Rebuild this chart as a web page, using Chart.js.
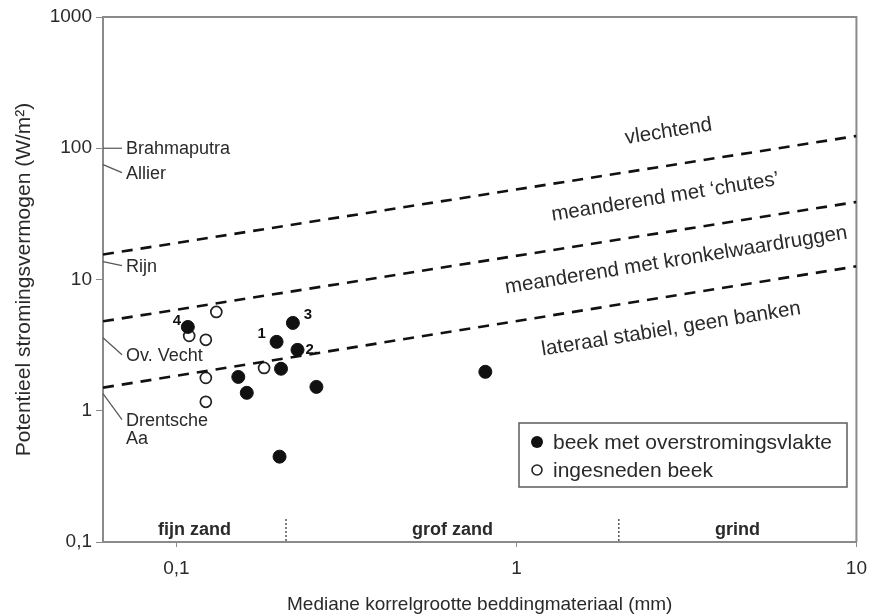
<!DOCTYPE html>
<html>
<head>
<meta charset="utf-8">
<script src="https://cdn.jsdelivr.net/npm/chart.js@4/dist/chart.umd.min.js"></script>
<style>
  html, body { margin: 0; padding: 0; background: #fff; }
  #wrap { width: 877px; height: 616px; }
</style>
</head>
<body>
<div id="wrap"><canvas id="chart"></canvas></div>
<script>
// assen
const xMin = 0.0608, xMax = 10
const xTicks = [0.1, 1, 10]
const yTicks = [0.1, 1, 10, 100, 1000]

// grenslijnen tussen riviertypen
const lineX = [0.0608, 10]
const vlechtGrens = [15.5, 124]
const chutesGrens = [4.8, 39]
const kronkelGrens = [1.5, 12.6]

// beek met overstromingsvlakte
const filledX = [0.108, 0.152, 0.161, 0.197, 0.203, 0.220, 0.227, 0.258, 0.201, 0.81]
const filledY = [4.35, 1.81, 1.37, 3.35, 2.09, 4.67, 2.91, 1.52, 0.447, 1.98]
const filledLabels = ['4', '', '', '1', '', '3', '2.', '', '', '']

// ingesneden beek
const openX = [0.109, 0.122, 0.131, 0.122, 0.122, 0.181]
const openY = [3.72, 3.47, 5.66, 1.78, 1.17, 2.12]

// grote rivieren langs de y-as
const riverNames = ['Brahmaputra', 'Allier', 'Rijn', 'Ov. Vecht', 'Drentsche\nAa']
const riverPower = [100, 75, 13.7, 3.6, 1.35]

// korrelgrootteklassen
const classNames = ['fijn zand', 'grof zand', 'grind']
const classBounds = [0.21, 2]

const regimeNames = ['vlechtend', 'meanderend met \u2018chutes\u2019', 'meanderend met kronkelwaardruggen', 'lateraal stabiel, geen banken']

const legendNames = ['beek met overstromingsvlakte', 'ingesneden beek']

const FONT = 'Liberation Sans, Arial, sans-serif'
const TEXT = '#2a2a2a'
const AXIS = '#8a8a8a'

const toPts = (xs, ys) => xs.map((x, i) => ({x: x, y: ys[i]}))

function lineSet(values) {
    return {
        data: toPts(lineX, values),
        showLine: true,
        borderColor: '#111',
        borderWidth: 2.6,
        borderDash: [11, 8],
        pointRadius: 0,
        fill: false
    }
}

const extras = {
    id: 'extras',
    beforeDatasetsDraw(chart) {
        const {ctx, chartArea: a, scales: {x, y}} = chart
        ctx.save()
        ctx.strokeStyle = AXIS
        ctx.lineWidth = 2
        ctx.beginPath()
        ctx.moveTo(a.left, a.top)
        ctx.lineTo(a.right, a.top)
        ctx.lineTo(a.right, a.bottom)
        ctx.stroke()

        // klassegrenzen
        ctx.strokeStyle = '#555'
        ctx.lineWidth = 1.5
        ctx.setLineDash([2, 2])
        classBounds.forEach(b => {
            const px = x.getPixelForValue(b)
            ctx.beginPath()
            ctx.moveTo(px, a.bottom - 23)
            ctx.lineTo(px, a.bottom)
            ctx.stroke()
        })
        ctx.setLineDash([])

        ctx.fillStyle = TEXT
        ctx.font = 'bold 18px ' + FONT
        ctx.textAlign = 'center'
        ctx.textBaseline = 'middle'
        const edges = [xMin].concat(classBounds, [xMax])
        classNames.forEach((n, i) => {
            const mid = Math.sqrt(edges[i] * edges[i + 1])
            ctx.fillText(n, x.getPixelForValue(mid), a.bottom - 12)
        })

        // rivieren
        const drop = [0, 8, 4, 17, 26]
        ctx.font = '18px ' + FONT
        ctx.textAlign = 'left'
        ctx.strokeStyle = '#555'
        ctx.lineWidth = 1.2
        riverNames.forEach((n, i) => {
            const py = y.getPixelForValue(riverPower[i])
            ctx.beginPath()
            ctx.moveTo(a.left, py)
            ctx.lineTo(a.left + 19, py + drop[i])
            ctx.stroke()
            n.split('\n').forEach((part, j) => {
                ctx.fillText(part, a.left + 23, py + drop[i] + 1 + j * 18)
            })
        })

        // regimes, schuin langs de lijnen
        const lines = [vlechtGrens, chutesGrens, kronkelGrens, kronkelGrens]
        const shift = [-34, -35, -35, 33]
        const xs = [2.8, 2.74, 2.95, 2.85]
        ctx.font = '20.5px ' + FONT
        ctx.textAlign = 'center'
        regimeNames.forEach((n, i) => {
            const ln = lines[i]
            const x0 = x.getPixelForValue(lineX[0]), y0 = y.getPixelForValue(ln[0])
            const x1 = x.getPixelForValue(lineX[1]), y1 = y.getPixelForValue(ln[1])
            const px = x.getPixelForValue(xs[i])
            const py = y0 + (y1 - y0) * (px - x0) / (x1 - x0) + shift[i]
            ctx.save()
            ctx.translate(px, py)
            ctx.rotate(Math.atan2(y1 - y0, x1 - x0))
            ctx.fillText(n, 0, 0)
            ctx.restore()
        })
        ctx.restore()
    },
    afterDatasetsDraw(chart) {
        const {ctx, scales: {x, y}} = chart
        ctx.save()
        ctx.fillStyle = '#111'
        ctx.font = 'bold 15px ' + FONT
        ctx.textBaseline = 'middle'
        const off = {'4': [-11, -6, 'center'], '1': [-15, -8, 'center'], '3': [15, -8, 'center'], '2.': [8, 0, 'left']}
        filledLabels.forEach((t, i) => {
            if (!t) return
            const o = off[t]
            ctx.textAlign = o[2]
            ctx.fillText(t, x.getPixelForValue(filledX[i]) + o[0], y.getPixelForValue(filledY[i]) + o[1])
        })

        // legenda
        const bx = 519, by = 423, bw = 328, bh = 64
        ctx.fillStyle = '#fff'
        ctx.fillRect(bx, by, bw, bh)
        ctx.strokeStyle = '#666'
        ctx.lineWidth = 1.6
        ctx.strokeRect(bx, by, bw, bh)
        ctx.font = '21px ' + FONT
        ctx.textAlign = 'left'
        legendNames.forEach((n, i) => {
            const cy = by + 19 + i * 28
            ctx.beginPath()
            ctx.arc(bx + 18, cy, i === 0 ? 6 : 5, 0, Math.PI * 2)
            if (i === 0) {
                ctx.fillStyle = '#111'
                ctx.fill()
            } else {
                ctx.strokeStyle = '#222'
                ctx.lineWidth = 1.6
                ctx.stroke()
            }
            ctx.fillStyle = TEXT
            ctx.fillText(n, bx + 34, cy + 1)
        })
        ctx.restore()
    }
}

const comma = v => String(v).replace('.', ',')

new Chart(document.getElementById('chart').getContext('2d'), {
    type: 'scatter',
    data: {
        datasets: [
            lineSet(vlechtGrens),
            lineSet(chutesGrens),
            lineSet(kronkelGrens),
            {
                label: legendNames[0],
                data: toPts(filledX, filledY),
                backgroundColor: '#111',
                borderColor: '#111',
                pointRadius: 6.5,
                pointHoverRadius: 6.5
            },
            {
                label: legendNames[1],
                data: toPts(openX, openY),
                backgroundColor: '#fff',
                borderColor: '#222',
                borderWidth: 1.7,
                pointRadius: 5.5,
                pointHoverRadius: 5.5
            }
        ]
    },
    options: {
        responsive: true,
        maintainAspectRatio: false,
        animation: false,
        layout: {padding: {left: 0, top: 17, right: 15, bottom: 0}},
        plugins: {legend: {display: false}, tooltip: {enabled: false}},
        scales: {
            x: {
                type: 'logarithmic',
                min: xMin,
                max: xMax,
                afterBuildTicks: s => { s.ticks = xTicks.map(v => ({value: v})) },
                afterFit: s => { s.height = 74 },
                border: {display: true, color: AXIS, width: 2},
                grid: {drawOnChartArea: false, tickLength: 5, color: AXIS},
                ticks: {color: TEXT, font: {family: FONT, size: 19}, padding: 10, callback: comma},
                title: {
                    display: true,
                    text: 'Mediane korrelgrootte beddingmateriaal (mm)',
                    color: TEXT,
                    font: {family: FONT, size: 19},
                    padding: {top: 0, bottom: 0}
                }
            },
            y: {
                type: 'logarithmic',
                min: 0.1,
                max: 1000,
                afterBuildTicks: s => { s.ticks = yTicks.map(v => ({value: v})) },
                afterFit: s => { s.width = 103 },
                border: {display: true, color: AXIS, width: 2},
                grid: {drawOnChartArea: false, tickLength: 7, color: AXIS},
                ticks: {color: TEXT, font: {family: FONT, size: 19}, padding: 4, callback: comma},
                title: {
                    display: true,
                    text: 'Potentieel stromingsvermogen (W/m\u00b2)',
                    color: TEXT,
                    font: {family: FONT, size: 21},
                    padding: {top: 12, bottom: 0}
                }
            }
        }
    },
    plugins: [extras]
})
</script>
</body>
</html>
